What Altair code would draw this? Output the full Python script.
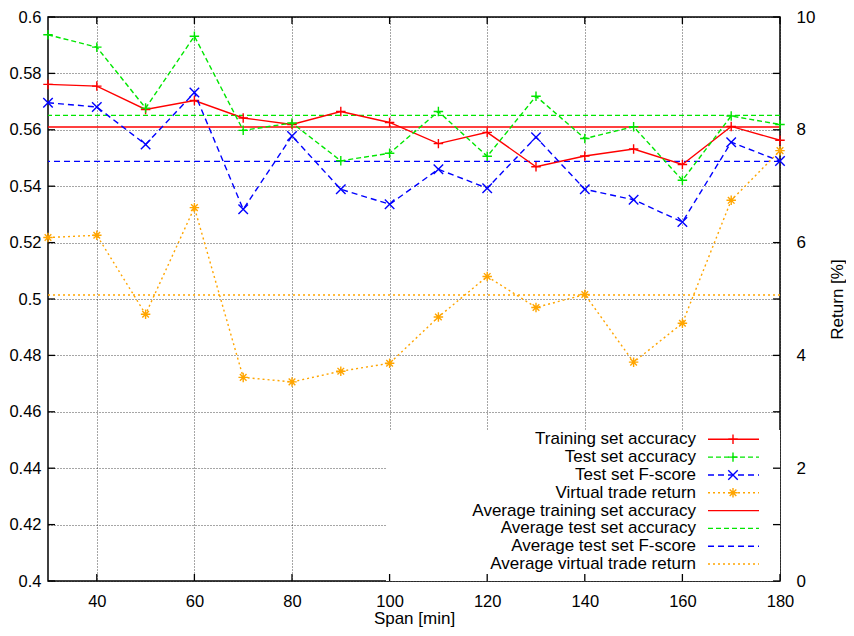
import altair as alt
import pandas as pd

# ---------------- data ----------------
span = [30, 40, 50, 60, 70, 80, 90, 100, 110, 120, 130, 140, 150, 160, 170, 180]
train_acc = [0.5761, 0.5755, 0.5672, 0.5704, 0.5642, 0.5619, 0.5665, 0.5626, 0.5551, 0.5591,
             0.5469, 0.5507, 0.5532, 0.5477, 0.5612, 0.5563]
test_acc = [0.5937, 0.5893, 0.5677, 0.5932, 0.5598, 0.5624, 0.5490, 0.5517, 0.5665, 0.5506,
            0.5719, 0.5569, 0.5611, 0.5421, 0.5649, 0.5619]
test_f = [0.5696, 0.5681, 0.5548, 0.5732, 0.5318, 0.5578, 0.5389, 0.5336, 0.5460, 0.5393,
          0.5574, 0.5389, 0.5352, 0.5273, 0.5556, 0.5489]
trade_ret = [6.09, 6.13, 4.73, 6.62, 3.61, 3.53, 3.72, 3.86, 4.68, 5.40,
             4.85, 5.08, 3.88, 4.57, 6.75, 7.63]
avg_train = 0.5610
avg_test = 0.5651
avg_f = 0.5488
avg_ret = 5.07

x_ticks = [40, 60, 80, 100, 120, 140, 160, 180]
y_ticks = [0.4, 0.42, 0.44, 0.46, 0.48, 0.5, 0.52, 0.54, 0.56, 0.58, 0.6]
y2_ticks = [0, 2, 4, 6, 8, 10]

legend_labels = [
    "Training set accuracy",
    "Test set accuracy",
    "Test set F-score",
    "Virtual trade return",
    "Average training set accuracy",
    "Average test set accuracy",
    "Average test set F-score",
    "Average virtual trade return",
]

# ---------------- styles ----------------
W, H = 732, 564
FONT = "Liberation Sans"
FS = 17
PLUS = "M-1,0L1,0M0,-1L0,1"
CROSS = "M-1,-1L1,1M-1,1L1,-1"
STAR = "M-1,0L1,0M0,-1L0,1M-0.7,-0.7L0.7,0.7M-0.7,0.7L0.7,-0.7"

RED, GREEN, BLUE, ORANGE = "#ff0000", "#00e600", "#0000ff", "#ffa500"
styles = [
    (RED, None, PLUS),
    (GREEN, [5, 3], PLUS),
    (BLUE, [6, 4], CROSS),
    (ORANGE, [2, 3], STAR),
]
MSIZE = 90


def X():
    return alt.X("span:Q",
                 scale=alt.Scale(domain=[30, 180], nice=False, zero=False),
                 axis=alt.Axis(values=x_ticks, grid=True, tickSize=0, domain=False,
                               labelPadding=12, labelFontSize=16.5, labelFlush=False,
                               title="Span [min]",
                               titleY=37, titleBaseline="middle",
                               gridDash=[1, 2], gridColor="#000", gridOpacity=0.7))


def YL():
    return alt.Y("acc:Q",
                 scale=alt.Scale(domain=[0.4, 0.6], nice=False, zero=False),
                 axis=alt.Axis(values=y_ticks, format="~g", grid=True, tickSize=0,
                               domain=False, labelPadding=7, labelFontSize=16.5,
                               labelFlush=False, title=None,
                               gridDash=[1, 2], gridColor="#000", gridOpacity=0.7))


def YR():
    return alt.Y("ret:Q",
                 scale=alt.Scale(domain=[0, 10], nice=False, zero=False),
                 axis=alt.Axis(orient="right", values=y2_ticks, grid=False, tickSize=0,
                               domain=False, labelPadding=16, labelFlush=False,
                               title="Return [%]",
                               titleAngle=270, titleX=57, titleY=H / 2,
                               titleAlign="center", titleBaseline="middle"))


def line_kw(color, dash):
    kw = dict(color=color, strokeWidth=1.4)
    if dash:
        kw["strokeDash"] = dash
    return kw


one = alt.Data(values=[{"k": 1}])

left_layers = []

# white area behind the key (grid is not drawn there)
left_layers.append(
    alt.Chart(one).mark_rect(color="white").encode(
        x=alt.value(338), x2=alt.value(W), y=alt.value(413), y2=alt.value(H))
)

# inward ticks
xt = pd.DataFrame({"span": x_ticks})
yt = pd.DataFrame({"acc": y_ticks})
tick_kw = dict(color="black", strokeWidth=1.3)
left_layers.append(alt.Chart(xt).mark_rule(**tick_kw).encode(
    x=X(), y=alt.value(H), y2=alt.value(H - 7)))
left_layers.append(alt.Chart(xt).mark_rule(**tick_kw).encode(
    x=X(), y=alt.value(0), y2=alt.value(7)))
left_layers.append(alt.Chart(yt).mark_rule(**tick_kw).encode(
    y=YL(), x=alt.value(0), x2=alt.value(7)))
left_layers.append(alt.Chart(yt).mark_rule(**tick_kw).encode(
    y=YL(), x=alt.value(W - 7), x2=alt.value(W)))

# average lines (accuracy axis)
for val, (color, dash, _) in zip([avg_train, avg_test, avg_f], styles[:3]):
    left_layers.append(
        alt.Chart(pd.DataFrame({"acc": [val]})).mark_rule(**line_kw(color, dash)).encode(y=YL())
    )

# series on accuracy axis
for vals, (color, dash, shape) in zip([train_acc, test_acc, test_f], styles[:3]):
    df = pd.DataFrame({"span": span, "acc": vals})
    left_layers.append(alt.Chart(df).mark_line(**line_kw(color, dash)).encode(x=X(), y=YL()))
    left_layers.append(
        alt.Chart(df).mark_point(shape=shape, filled=False, color=color, size=MSIZE,
                                 strokeWidth=1.4, opacity=1).encode(x=X(), y=YL())
    )

# key (legend)
KEY_TX, KEY_X1, KEY_X2, KEY_M = 648, 660, 711, 685
for i, lab in enumerate(legend_labels):
    ry = 422.3 + i * 17.82
    color, dash, shape = styles[i % 4]
    left_layers.append(
        alt.Chart(one).mark_text(align="right", baseline="middle", font=FONT,
                                 fontSize=17, color="black").encode(
            x=alt.value(KEY_TX), y=alt.value(ry), text=alt.value(lab))
    )
    left_layers.append(
        alt.Chart(one).mark_rule(**line_kw(color, dash)).encode(
            x=alt.value(KEY_X1), x2=alt.value(KEY_X2), y=alt.value(ry))
    )
    if i < 4:
        left_layers.append(
            alt.Chart(one).mark_point(shape=shape, filled=False, color=color, size=MSIZE,
                                      strokeWidth=1.4, opacity=1).encode(
                x=alt.value(KEY_M), y=alt.value(ry))
        )

left = alt.layer(*left_layers)

# series on return axis
rdf = pd.DataFrame({"span": span, "ret": trade_ret})
color, dash, shape = styles[3]
right = alt.layer(
    alt.Chart(pd.DataFrame({"ret": [avg_ret]})).mark_rule(**line_kw(color, dash)).encode(y=YR()),
    alt.Chart(rdf).mark_line(**line_kw(color, dash)).encode(x=X(), y=YR()),
    alt.Chart(rdf).mark_point(shape=shape, filled=False, color=color, size=MSIZE,
                              strokeWidth=1.4, opacity=1).encode(x=X(), y=YR()),
)

chart = (
    alt.layer(left, right)
    .resolve_scale(y="independent")
    .properties(
        width=W, height=H,
        padding={"left": 40, "top": 9, "right": 66, "bottom": 47},
        autosize=alt.AutoSizeParams(type="none"),
        background="white",
    )
    .configure_view(stroke="black", strokeWidth=1.5)
    .configure_axis(labelFont=FONT, titleFont=FONT, labelFontSize=FS, titleFontSize=FS,
                    titleFontWeight="normal", labelColor="black", titleColor="black")
)

chart.save("out.html", embed_options={"renderer": "svg", "actions": False})
